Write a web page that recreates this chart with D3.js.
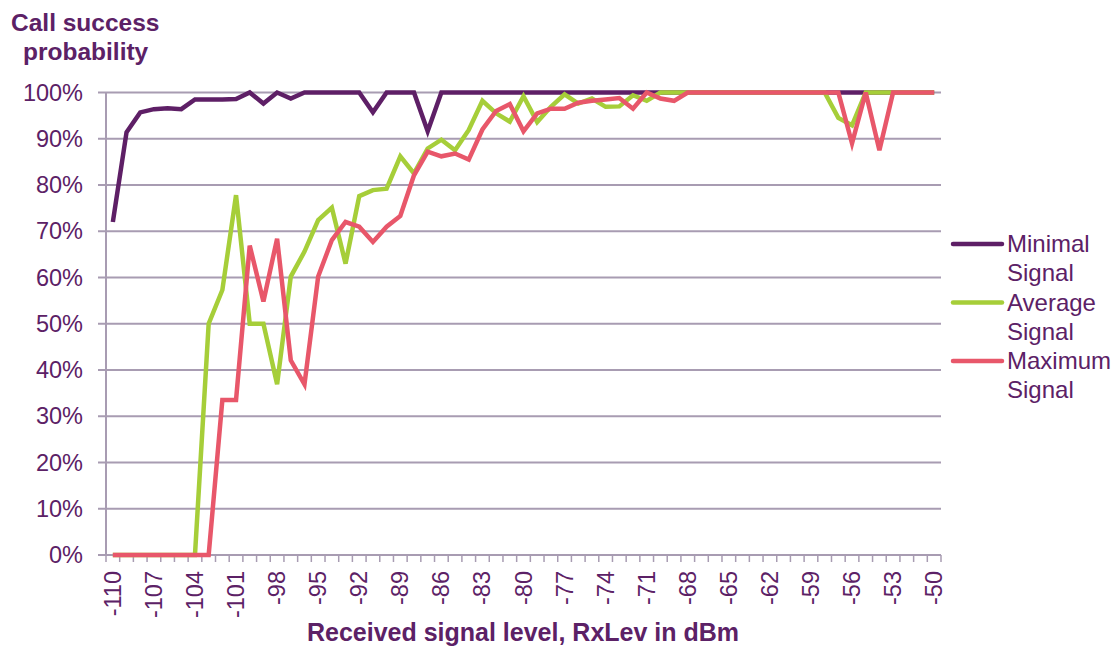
<!DOCTYPE html>
<html>
<head>
<meta charset="utf-8">
<script src="https://cdn.jsdelivr.net/npm/d3@7"></script>
<style>
  body { margin: 0; background: #fff; }
  svg text { font-family: "Liberation Sans", Arial, sans-serif; fill: #5c2166; }
</style>
</head>
<body>
<div id="chart"></div>
<script>
// received signal level categories, -110 .. -50 dBm
var levels = d3.range(-110, -49);

var minimalSignal = [72, 91.4, 95.7, 96.4, 96.6, 96.4, 98.5, 98.5, 98.5, 98.6,
    100, 97.6, 100, 98.7, 100, 100, 100, 100, 100, 95.7,
    100, 100, 100, 91.6, 100, 100, 100, 100, 100, 100,
    100, 100, 100, 100, 100, 100, 100, 100, 100, 100,
    100, 100, 100, 100, 100, 100, 100, 100, 100, 100,
    100, 100, 100, 100, 100, 100, 100, 100, 100, 100, 100];

var averageSignal = [0, 0, 0, 0, 0, 0, 0, 50, 57.3, 77.8,
    50, 50, 36.9, 60.2, 65.6, 72.4, 75.1, 63, 77.6, 78.9,
    79.2, 86.2, 82.5, 87.9, 89.8, 87.5, 91.9, 98.2, 95.5, 93.7,
    99.2, 93.6, 96.9, 99.6, 97.6, 98.7, 96.9, 97, 99.4, 98.2,
    100, 100, 100, 100, 100, 100, 100, 100, 100, 100,
    100, 100, 100, 94.5, 92.9, 100, 100, 100, 100, 100, 100];

var maximumSignal = [0, 0, 0, 0, 0, 0, 0, 0, 33.5, 33.5,
    66.9, 54.8, 68.4, 42.1, 36.9, 60.2, 68.1, 72, 71, 67.7,
    71, 73.3, 82.1, 87.2, 86.2, 86.8, 85.5, 92, 96, 97.5,
    91.6, 95.5, 96.5, 96.5, 97.8, 98.2, 98.5, 98.8, 96.5, 100,
    98.7, 98.2, 100, 100, 100, 100, 100, 100, 100, 100,
    100, 100, 100, 100, 89, 100, 87.5, 100, 100, 100, 100];

var yTicks = [0, 10, 20, 30, 40, 50, 60, 70, 80, 90, 100];
var seriesNames = [["Minimal", "Signal"], ["Average", "Signal"], ["Maximum", "Signal"]];
var seriesData = [minimalSignal, averageSignal, maximumSignal];
var colors = ["#5e1f66", "#a6ce39", "#e8576a"];

var width = 1120, height = 647;
var plot = { left: 106, right: 941, top: 92.5, bottom: 555 };
var gridColor = "#a89cb2";

var svg = d3.select("#chart")
    .append("svg")
    .attr("width", width)
    .attr("height", height);

var xScale = d3.scaleBand().domain(levels).range([plot.left, plot.right]);
var yScale = d3.scaleLinear().domain([0, 100]).range([plot.bottom, plot.top]);

// horizontal gridlines with small outer ticks on the left
svg.append("g")
    .selectAll("line")
    .data(yTicks)
    .enter()
    .append("line")
    .attr("x1", plot.left - 8)
    .attr("x2", plot.right)
    .attr("y1", function (d) { return yScale(d); })
    .attr("y2", function (d) { return yScale(d); })
    .attr("stroke", gridColor)
    .attr("stroke-width", 2);

// y axis line
svg.append("line")
    .attr("x1", plot.left).attr("x2", plot.left)
    .attr("y1", plot.top).attr("y2", plot.bottom)
    .attr("stroke", gridColor)
    .attr("stroke-width", 2);

// y tick labels
svg.append("g")
    .selectAll("text")
    .data(yTicks)
    .enter()
    .append("text")
    .attr("x", 83)
    .attr("y", function (d) { return yScale(d) + 8; })
    .attr("text-anchor", "end")
    .style("font-size", "23.5px")
    .text(function (d) { return d + "%"; });

// x tick marks at band edges
var edges = levels.map(function (d) { return xScale(d); }).concat([plot.right]);
svg.append("g")
    .selectAll("line")
    .data(edges)
    .enter()
    .append("line")
    .attr("x1", function (d) { return d; })
    .attr("x2", function (d) { return d; })
    .attr("y1", plot.bottom)
    .attr("y2", plot.bottom + 7)
    .attr("stroke", gridColor)
    .attr("stroke-width", 1.5);

// x tick labels, every third level
svg.append("g")
    .selectAll("text")
    .data(levels.filter(function (d, i) { return i % 3 == 0; }))
    .enter()
    .append("text")
    .attr("transform", function (d) {
        return "translate(" + (xScale(d) + xScale.bandwidth() / 2 + 8) + "," + 571 + ") rotate(-90)";
    })
    .attr("text-anchor", "end")
    .style("font-size", "23.5px")
    .text(function (d) { return d; });

// series lines
var line = d3.line()
    .x(function (d, i) { return xScale(levels[i]) + xScale.bandwidth() / 2; })
    .y(function (d) { return yScale(d); });

seriesData.forEach(function (values, k) {
    svg.append("path")
        .datum(values)
        .attr("fill", "none")
        .attr("stroke", colors[k])
        .attr("stroke-width", 4.5)
        .attr("stroke-linejoin", "miter")
        .attr("d", line);
});

// titles
svg.append("text")
    .attr("x", 11)
    .attr("y", 31)
    .style("font-size", "24.5px")
    .style("font-weight", "bold")
    .text("Call success");
svg.append("text")
    .attr("x", 23)
    .attr("y", 60)
    .style("font-size", "24.5px")
    .style("font-weight", "bold")
    .text("probability");

svg.append("text")
    .attr("x", 523)
    .attr("y", 641)
    .attr("text-anchor", "middle")
    .style("font-size", "25px")
    .style("font-weight", "bold")
    .text("Received signal level, RxLev in dBm");

// legend
var legend = svg.append("g")
    .selectAll("g")
    .data(seriesNames)
    .enter()
    .append("g")
    .attr("transform", function (d, i) { return "translate(0," + (244 + i * 58.5) + ")"; });

legend.append("line")
    .attr("x1", 953).attr("x2", 1002)
    .attr("y1", 0).attr("y2", 0)
    .attr("stroke", function (d, i) { return colors[i]; })
    .attr("stroke-width", 4.5)
    .attr("stroke-linecap", "round");

legend.append("text")
    .attr("x", 1007)
    .attr("y", 8)
    .style("font-size", "24px")
    .text(function (d) { return d[0]; });

legend.append("text")
    .attr("x", 1007)
    .attr("y", 37)
    .style("font-size", "24px")
    .text(function (d) { return d[1]; });
</script>
</body>
</html>
